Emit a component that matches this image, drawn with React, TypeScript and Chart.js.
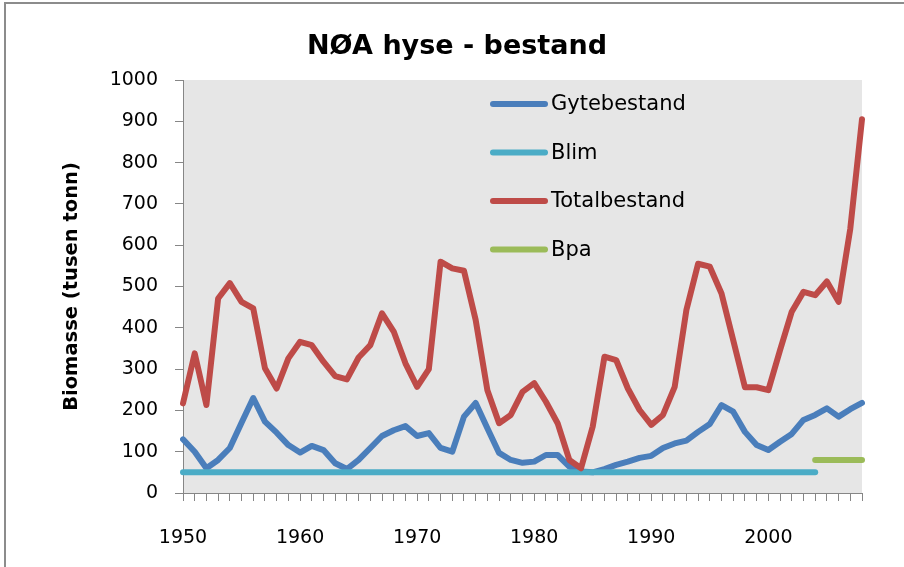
import React, { useEffect, useRef } from "react";
import { Chart, registerables } from "chart.js";
Chart.register(...registerables);

const years = [
  1950, 1951, 1952, 1953, 1954, 1955, 1956, 1957, 1958, 1959,
  1960, 1961, 1962, 1963, 1964, 1965, 1966, 1967, 1968, 1969,
  1970, 1971, 1972, 1973, 1974, 1975, 1976, 1977, 1978, 1979,
  1980, 1981, 1982, 1983, 1984, 1985, 1986, 1987, 1988, 1989,
  1990, 1991, 1992, 1993, 1994, 1995, 1996, 1997, 1998, 1999,
  2000, 2001, 2002, 2003, 2004, 2005, 2006, 2007, 2008,
];

const gytebestand = [
  130, 100, 60, 80, 109, 170, 230, 173, 146, 116,
  98, 114, 104, 72, 58, 80, 109, 138, 152, 162,
  138, 145, 109, 100, 185, 218, 157, 97, 80, 73,
  76, 92, 92, 64, 52, 50, 58, 68, 76, 85,
  90, 109, 120, 127, 148, 167, 213, 197, 148, 116,
  104, 124, 143, 177, 189, 205, 185, 203, 218,
];

const blim = [
  50, 50, 50, 50, 50, 50, 50, 50, 50, 50,
  50, 50, 50, 50, 50, 50, 50, 50, 50, 50,
  50, 50, 50, 50, 50, 50, 50, 50, 50, 50,
  50, 50, 50, 50, 50, 50, 50, 50, 50, 50,
  50, 50, 50, 50, 50, 50, 50, 50, 50, 50,
  50, 50, 50, 50, 50, null, null, null, null,
];

const totalbestand = [
  217, 338, 213, 471, 508, 463, 447, 302, 253, 326,
  366, 358, 318, 283, 275, 328, 358, 435, 391, 314,
  257, 300, 560, 544, 538, 419, 249, 169, 189, 245,
  266, 221, 169, 80, 60, 161, 330, 322, 253, 201,
  165, 189, 257, 443, 555, 548, 483, 370, 256, 256,
  249, 346, 439, 487, 479, 512, 463, 640, 905,
];

const bpa = [
  null, null, null, null, null, null, null, null, null, null,
  null, null, null, null, null, null, null, null, null, null,
  null, null, null, null, null, null, null, null, null, null,
  null, null, null, null, null, null, null, null, null, null,
  null, null, null, null, null, null, null, null, null, null,
  null, null, null, null, 80, 80, 80, 80, 80,
];

const yTicks = [0, 100, 200, 300, 400, 500, 600, 700, 800, 900, 1000];

const FONT = "'DejaVu Sans', sans-serif";

export default function App() {
  const ref = useRef<HTMLCanvasElement>(null);

  useEffect(() => {
    document.body.style.margin = "0";
    Chart.defaults.font.family = FONT;

    const bgPlugin = {
      id: "plotBg",
      beforeDraw(chart: any) {
        const { ctx, chartArea } = chart;
        ctx.save();
        ctx.fillStyle = "#e6e6e6";
        ctx.fillRect(chartArea.left, chartArea.top, chartArea.right - chartArea.left, chartArea.bottom - chartArea.top);
        ctx.restore();
      },
    };

    const titleLegendPlugin = {
      id: "titleLegend",
      afterDraw(chart: any) {
        const { ctx } = chart;
        ctx.save();
        ctx.fillStyle = "#000";
        ctx.font = `bold 27px ${FONT}`;
        ctx.textAlign = "center";
        ctx.textBaseline = "middle";
        ctx.fillText("NØA hyse - bestand", 457, 47);

        const items = chart.data.datasets;
        ctx.font = `21px ${FONT}`;
        ctx.textAlign = "left";
        items.forEach((ds: any, i: number) => {
          const y = 104 + i * 48.5;
          ctx.strokeStyle = ds.borderColor;
          ctx.lineWidth = 6;
          ctx.lineCap = "round";
          ctx.beginPath();
          ctx.moveTo(493, y);
          ctx.lineTo(545, y);
          ctx.stroke();
          ctx.fillStyle = "#000";
          ctx.fillText(ds.label, 551, y + 1);
        });
        ctx.restore();
      },
    };

    const gridCommon = {
      drawOnChartArea: false,
      drawTicks: true,
      tickLength: 8,
      color: "#868686",
    };

    const chart = new Chart(ref.current!, {
      type: "line",
      data: {
        labels: years.map(String),
        datasets: [
          { label: "Gytebestand", data: gytebestand, borderColor: "#4a7ebb", order: 3 },
          { label: "Blim", data: blim, borderColor: "#4bacc6", order: 2 },
          { label: "Totalbestand", data: totalbestand, borderColor: "#be4b48", order: 1 },
          { label: "Bpa", data: bpa, borderColor: "#9bbb59", order: 0 },
        ].map((d) => ({
          ...d,
          borderWidth: 6,
          pointRadius: 0,
          tension: 0,
          fill: false,
          borderJoinStyle: "round" as const,
          borderCapStyle: "round" as const,
          spanGaps: false,
        })),
      },
      options: {
        animation: false,
        responsive: false,
        layout: { padding: { left: 0, right: 42, top: 80, bottom: 0 } },
        plugins: {
          legend: { display: false },
          tooltip: { enabled: false },
          title: { display: false },
        },
        scales: {
          x: {
            type: "category",
            offset: false,
            grid: { ...gridCommon, offset: false },
            border: { color: "#868686", width: 1 },
            ticks: {
              autoSkip: false,
              maxRotation: 0,
              minRotation: 0,
              color: "#000",
              font: { size: 19 },
              padding: 26,
              callback: (_v: any, i: number) => (years[i] % 10 === 0 ? String(years[i]) : ""),
            },
            afterFit: (s: any) => {
              s.height = 74;
            },
          },
          y: {
            min: yTicks[0],
            max: yTicks[yTicks.length - 1],
            afterBuildTicks: (s: any) => {
              s.ticks = yTicks.map((v) => ({ value: v }));
            },
            grid: gridCommon,
            border: { color: "#868686", width: 1 },
            ticks: {
              color: "#000",
              font: { size: 19 },
              padding: 17,
              callback: (v: any) => String(v),
            },
            title: {
              display: true,
              text: "Biomasse (tusen tonn)",
              color: "#000",
              font: { size: 19.5, weight: "bold" },
              padding: { top: 60, bottom: 0 },
            },
            afterFit: (s: any) => {
              s.width = 183;
            },
          },
        },
      },
      plugins: [bgPlugin, titleLegendPlugin],
    });
    return () => chart.destroy();
  }, []);

  return (
    <div style={{ position: "fixed", left: 0, top: 0, width: 904, height: 567, background: "#fff", overflow: "hidden" }}>
      <div
        style={{
          position: "absolute",
          left: 4,
          top: 2,
          width: 920,
          height: 580,
          borderTop: "2px solid #8c8c8c",
          borderLeft: "2px solid #8c8c8c",
        }}
      />
      <canvas ref={ref} width={904} height={567} style={{ position: "absolute", left: 0, top: 0 }} />
    </div>
  );
}
